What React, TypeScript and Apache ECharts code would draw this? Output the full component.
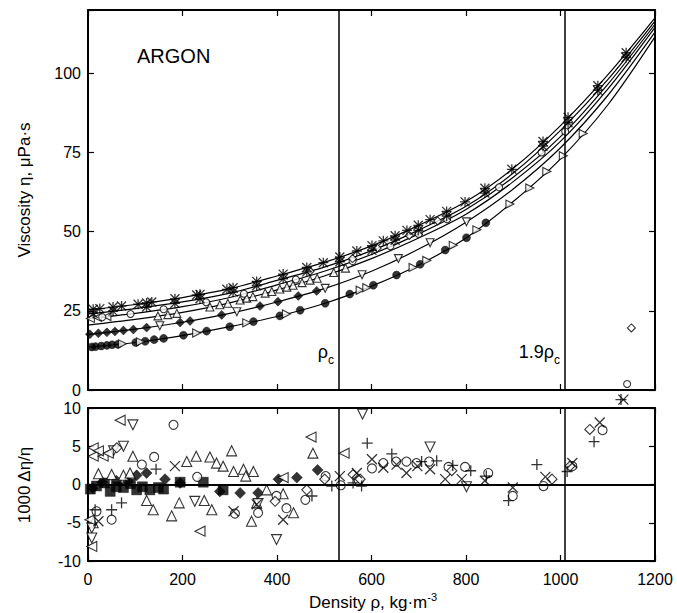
import React, { useEffect, useRef } from "react";
import * as echarts from "echarts";

// ---------- data ----------
const densityGrid = [0, 100, 200, 300, 400, 500, 600, 700, 800, 900, 1000, 1100, 1200];
const isotherm1 = [25.3, 27.0, 29.2, 32.0, 36.0, 40.3, 45.5, 52.0, 59.5, 70.0, 83.5, 99.5, 117.5];
const isotherm2 = [24.0, 25.7, 27.8, 30.6, 34.6, 38.8, 44.0, 50.5, 58.0, 68.5, 82.0, 98.0, 116.5];
const isotherm3 = [22.5, 24.2, 26.3, 29.2, 33.2, 37.5, 42.8, 49.3, 57.0, 67.2, 80.0, 96.5, 115.5];
const isotherm4 = [20.5, 22.3, 24.5, 27.5, 31.6, 36.0, 41.5, 48.0, 55.5, 65.8, 78.5, 95.0, 114.5];
const isotherm5 = [17.5, 19.2, 21.4, 24.2, 27.8, 32.0, 37.5, 44.5, 53.0, 63.5, 76.5, 93.0, 113.0];
const isotherm6 = [13.5, 15.0, 17.2, 20.0, 23.2, 27.3, 32.8, 39.5, 48.0, 59.5, 73.0, 90.0, 111.5];
const isotherms = [isotherm1, isotherm2, isotherm3, isotherm4, isotherm5, isotherm6];

const referenceDensities = [530, 1010]; // rho_c and 1.9 rho_c

// top panel: measured viscosities
const topStarsUpper = [
  [11, 25.5], [25, 25.7], [53, 26.2], [71, 26.5], [106, 27.1], [124, 27.5], [135, 27.8], [184, 28.8],
  [230, 30.0], [237, 30.2], [294, 31.8], [307, 32.3], [357, 34.3], [413, 36.6], [463, 38.7], [498, 40.2],
  [533, 42.0], [569, 43.9], [601, 45.6], [625, 47.1], [650, 48.7], [675, 50.4], [699, 52.0], [724, 53.8],
  [759, 56.4], [798, 59.4], [840, 63.7], [897, 69.7], [963, 78.5], [1016, 86.1], [1079, 96.1], [1139, 106.5],
];
const topStarsSecond = [
  [11, 24.2], [53, 24.9], [124, 26.2], [184, 27.4], [237, 28.8], [307, 30.9], [357, 32.9], [413, 35.1],
  [463, 37.3], [533, 40.5], [601, 44.1], [650, 47.3], [699, 50.4], [759, 54.9], [840, 62.2], [963, 77.0],
  [1016, 84.4], [1079, 94.6], [1139, 105.0],
];
const topOpenCircles = [
  [30, 23.0], [90, 24.0], [160, 25.5], [250, 27.7], [330, 30.4], [440, 34.9], [560, 40.7], [640, 45.4],
  [700, 49.3], [760, 53.9], [870, 64.0], [960, 75.0], [1010, 81.6], [1141, 1.9],
];
const topOpenDiamonds = [
  [470, 37.5], [560, 41.5], [612, 44.8], [680, 48.8], [740, 53.4], [1150, 19.6],
];
const topTriUp = [
  [148, 23.4], [169, 23.8], [188, 24.2], [258, 26.2], [279, 26.9], [296, 27.4], [322, 28.4], [336, 29.0],
  [349, 29.5], [375, 30.6], [389, 31.1], [406, 31.9], [421, 32.5], [434, 33.1], [453, 33.9], [470, 34.7],
  [485, 35.3], [520, 37.1], [545, 38.5],
];
const topTriLeft = [[5, 22.6], [20, 22.9], [40, 23.2]];
const topFilledCircles = [
  [8, 13.6], [16, 13.7], [28, 13.9], [40, 14.1], [51, 14.3], [63, 14.4], [101, 15.0], [121, 15.4],
  [140, 15.9], [160, 16.3], [202, 17.3], [251, 18.6], [300, 20.0], [350, 21.6], [406, 23.4], [449, 25.2],
  [502, 27.4], [554, 30.3], [604, 33.1], [653, 36.3], [703, 39.7], [756, 44.2], [801, 48.1], [842, 52.8],
];
const topTriRight = [
  [73, 14.6], [111, 15.2], [230, 18.0], [336, 21.2], [420, 24.0], [576, 31.5], [590, 32.3], [688, 38.7],
  [717, 40.9], [773, 45.7], [823, 50.6], [893, 58.7], [935, 63.8], [971, 69.0], [1006, 74.0], [1048, 81.0],
];
const topFilledDiamonds = [
  [4, 17.6], [22, 17.9], [40, 18.2], [57, 18.5], [75, 18.8], [96, 19.1], [124, 19.7], [195, 21.3],
  [216, 21.8], [283, 23.7], [364, 26.5], [402, 27.9], [445, 29.7], [484, 31.3],
];
const topTriDown = [[152, 20.3], [315, 24.7], [502, 32.1], [580, 36.4], [657, 41.5], [724, 46.5], [801, 53.1]];

// bottom panel: deviations 1000*dEta/eta
const devTriLeft = [
  [68, 8.4], [11, 4.8], [11, 3.7], [32, 3.7], [22, 4.4], [43, 4.1], [4, -4.6], [8, -8.1], [237, -6.1],
  [472, 6.2], [542, 4.1], [413, 0.9],
];
const devTriDown = [
  [95, 7.8], [54, 4.4], [75, 5.0], [8, -5.7], [8, -7.0], [226, -2.2], [399, -7.2], [581, 9.2], [724, 4.9],
  [801, -0.3], [360, -2.5],
];
const devCircles = [
  [181, 7.8], [140, 3.6], [114, 2.6], [50, -4.6], [18, -3.5], [311, -3.8], [360, -3.7], [399, -1.5],
  [420, -3.1], [460, -2.0], [503, 1.1], [535, -0.1], [573, 0.5], [601, 2.1], [625, 2.8], [652, 3.0],
  [674, 3.0], [695, 2.8], [722, 3.0], [763, 2.3], [798, 2.3], [847, 1.5], [899, -1.5], [964, -0.2],
  [1025, 2.4], [1089, 7.1], [231, 1.0],
];
const devCrosses = [
  [184, 2.4], [22, -4.8], [308, -3.5], [357, -2.6], [413, -4.6], [533, 1.1], [569, 1.5], [601, 3.3],
  [625, 2.2], [653, 2.6], [674, 1.5], [697, 2.4], [724, 2.0], [756, 0.7], [791, 0.7], [840, 0.5],
  [899, -0.4], [968, 1.0], [1025, 2.8], [1083, 8.1], [1133, 11.1],
];
const devPluses = [
  [144, 2.0], [15, -3.3], [50, -3.3], [71, -2.4], [474, -1.5], [516, -0.2], [561, 0.2], [579, -0.2],
  [591, 5.4], [643, 4.0], [706, 3.0], [738, 3.1], [772, 2.5], [810, 1.8], [843, 1.1], [890, -2.1],
  [950, 2.6], [1014, 1.7], [1071, 5.6], [1128, 11.1],
];
const devDiamonds = [
  [396, -2.2], [463, -0.7], [501, 0.7], [561, 1.3], [576, 0.7], [770, 1.8], [982, 0.7], [1020, 2.4],
  [1062, 7.2], [61, 4.8],
];
const devTriUp = [
  [95, 3.7], [209, 3.0], [229, 3.7], [258, 3.6], [272, 2.8], [286, 2.4], [304, 4.4], [308, 1.7],
  [329, 2.0], [350, 1.7], [334, 1.1], [22, 1.4], [50, 1.3], [75, 1.2], [89, 1.5], [124, -2.1],
  [138, -3.3], [193, -2.4], [246, -2.1], [262, -3.3], [177, -4.1], [11, -5.0], [346, -4.8], [357, -2.4],
  [413, -1.2], [435, -3.7], [476, 4.1], [378, -0.7],
];
const devFilledDiamonds = [
  [103, 1.2], [124, 1.5], [163, 0.7], [195, 0.2], [279, -0.9], [322, -1.1], [360, -1.1], [403, 0.7],
  [442, 0.9], [486, 1.9], [10, -0.5], [30, 0.3], [60, 0.5], [85, 0.4],
];
const devFilledSquares = [
  [18, -0.2], [47, -0.9], [75, -0.4], [103, -0.7], [131, -0.7], [149, -0.4], [195, 0.3], [244, 0.3],
  [286, -0.7], [5, -0.6], [35, 0.2], [60, -0.3], [90, 0.1], [115, -0.3], [160, -0.6],
];

// ---------- styling ----------
const FONT = "'Liberation Sans', Arial, Helvetica, sans-serif";
const CROSS = "path://M0,0L10,10M10,0L0,10";
const PLUS = "path://M5,0L5,10M0,5L10,5";

const filled = { color: "#000", borderColor: "#000", borderWidth: 0.5 };
const open = { color: "#fff", borderColor: "#000", borderWidth: 1.1 };
const glyph = { color: "rgba(0,0,0,0)", borderColor: "#000", borderWidth: 1.3 };

function scatter(
  data: number[][],
  grid: number,
  symbol: string,
  size: number,
  itemStyle: any,
  rotate = 0
) {
  return {
    type: "scatter",
    xAxisIndex: grid,
    yAxisIndex: grid,
    data,
    symbol,
    symbolSize: size,
    symbolRotate: rotate,
    itemStyle,
    clip: false,
    silent: true,
    z: 3,
  };
}

const plainLabel = (v: number) => String(v);

function valueAxis(grid: number, position: string, min: number, max: number, interval: number, labels: boolean, extra: any = {}) {
  return {
    type: "value",
    gridIndex: grid,
    position,
    min,
    max,
    interval,
    splitLine: { show: false },
    axisLine: { show: true, onZero: false, lineStyle: { color: "#000", width: 2 } },
    axisTick: { show: true, inside: true, length: 6, lineStyle: { color: "#000", width: 1.2 } },
    axisLabel: { show: labels, color: "#000", fontSize: 16, fontFamily: FONT, margin: 7, formatter: plainLabel },
    ...extra,
  };
}

function label(text: string, x: number, y: number, size: number, align: string) {
  return {
    type: "text",
    x,
    y,
    style: { text, fontSize: size, fontFamily: FONT, fill: "#000", align, verticalAlign: "middle" },
  };
}

export default function App() {
  const ref = useRef<HTMLDivElement>(null);

  useEffect(() => {
    if (!ref.current) return;
    const chart = echarts.init(ref.current, undefined, { renderer: "svg" });

    const curveSeries = isotherms.map((iso, k) => ({
      type: "line",
      xAxisIndex: 0,
      yAxisIndex: 0,
      data: densityGrid.map((d, i) => [d, iso[i]]),
      smooth: 0.3,
      showSymbol: false,
      symbol: "none",
      silent: true,
      lineStyle: { color: "#000", width: 1.2 },
      z: 2,
      ...(k === 0
        ? {
            markLine: {
              silent: true,
              symbol: "none",
              label: { show: false },
              lineStyle: { color: "#000", width: 1.5, type: "solid" },
              data: referenceDensities.map((v) => ({ xAxis: v })),
            },
          }
        : {}),
    }));

    const bottomRef = {
      type: "line",
      xAxisIndex: 1,
      yAxisIndex: 1,
      data: [],
      silent: true,
      markLine: {
        silent: true,
        symbol: "none",
        label: { show: false },
        lineStyle: { color: "#000", width: 1.5, type: "solid" },
        data: [
          ...referenceDensities.map((v) => ({ xAxis: v })),
          { yAxis: 0, lineStyle: { width: 2 } },
        ],
      },
    };

    const option: any = {
      animation: false,
      backgroundColor: "#fff",
      grid: [
        { left: 88, right: 22, top: 10, height: 380 },
        { left: 88, right: 22, top: 408, height: 153 },
      ],
      xAxis: [
        valueAxis(0, "bottom", 0, 1200, 200, false),
        valueAxis(1, "bottom", 0, 1200, 200, true, {
          axisLabel: { show: true, color: "#000", fontSize: 16, fontFamily: FONT, margin: 10, formatter: plainLabel },
        }),
        valueAxis(0, "top", 0, 1200, 200, false),
        valueAxis(1, "top", 0, 1200, 200, false),
      ],
      yAxis: [
        valueAxis(0, "left", 0, 120, 25, true, {
          axisLabel: {
            show: true,
            color: "#000",
            fontSize: 16,
            fontFamily: FONT,
            margin: 7,
            formatter: (v: number) => (v > 110 ? "" : String(v)),
          },
        }),
        valueAxis(1, "left", -10, 10, 5, true),
        valueAxis(0, "right", 0, 120, 25, false),
        valueAxis(1, "right", -10, 10, 5, false),
      ],
      series: [
        ...curveSeries,
        bottomRef,
        // top panel markers
        scatter(topFilledCircles, 0, "circle", 8, filled),
        scatter(topTriRight, 0, "triangle", 8, open, -90),
        scatter(topFilledDiamonds, 0, "diamond", 9, filled),
        scatter(topTriDown, 0, "triangle", 8, open, 180),
        scatter(topTriUp, 0, "triangle", 8, open),
        scatter(topTriLeft, 0, "triangle", 8, open, 90),
        scatter(topOpenCircles, 0, "circle", 7, open),
        scatter(topOpenDiamonds, 0, "diamond", 8, open),
        scatter(topStarsSecond, 0, CROSS, 9, glyph),
        scatter(topStarsSecond, 0, PLUS, 10, glyph),
        scatter(topStarsUpper, 0, CROSS, 9, glyph),
        scatter(topStarsUpper, 0, PLUS, 10, glyph),
        // bottom panel markers
        scatter(devFilledSquares, 1, "rect", 10, filled),
        scatter(devFilledDiamonds, 1, "diamond", 11, filled),
        scatter(devTriUp, 1, "triangle", 10, open),
        scatter(devTriDown, 1, "triangle", 10, open, 180),
        scatter(devTriLeft, 1, "triangle", 10, open, 90),
        scatter(devCircles, 1, "circle", 9, open),
        scatter(devDiamonds, 1, "diamond", 10, open),
        scatter(devCrosses, 1, CROSS, 10, glyph),
        scatter(devPluses, 1, PLUS, 11, glyph),
      ],
      graphic: [
        label("ARGON", 137, 56, 20, "left"),
        label("ρ", 328, 352, 18, "right"),
        label("c", 328, 360, 12, "left"),
        label("1.9ρ", 554, 352, 18, "right"),
        label("c", 554, 360, 12, "left"),
        {
          type: "text",
          x: 24,
          y: 190,
          rotation: Math.PI / 2,
          style: {
            text: "Viscosity η, μPa·s",
            fontSize: 17,
            fontFamily: FONT,
            fill: "#000",
            align: "center",
            verticalAlign: "middle",
          },
        },
        {
          type: "text",
          x: 24,
          y: 485,
          rotation: Math.PI / 2,
          style: {
            text: "1000 Δη/η",
            fontSize: 17,
            fontFamily: FONT,
            fill: "#000",
            align: "center",
            verticalAlign: "middle",
          },
        },
        {
          type: "text",
          x: 373,
          y: 601,
          style: {
            text: "{a|Density ρ, kg·m}{b|-3}",
            align: "center",
            verticalAlign: "middle",
            fill: "#000",
            rich: {
              a: { fontSize: 17, fontFamily: FONT, fill: "#000", lineHeight: 20, verticalAlign: "bottom" },
              b: { fontSize: 11, fontFamily: FONT, fill: "#000", lineHeight: 11, verticalAlign: "top" },
            },
          },
        },
      ],
    };

    chart.setOption(option);
    return () => chart.dispose();
  }, []);

  return (
    <div
      ref={ref}
      style={{ position: "fixed", left: 0, top: 0, width: 677, height: 613, background: "#fff" }}
    />
  );
}
